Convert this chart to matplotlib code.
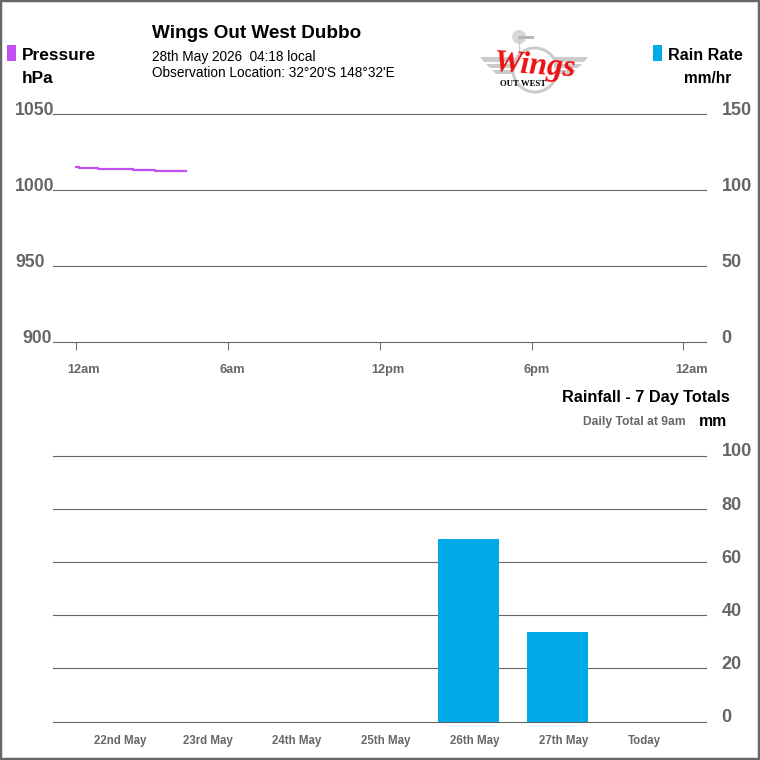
import matplotlib
matplotlib.use('Agg')
import matplotlib.pyplot as plt
from matplotlib.patches import Polygon, Circle, Rectangle

plt.rcParams['font.family'] = ['Liberation Sans', 'DejaVu Sans']

# pressure trace, hours since midnight
hours = [0.0, 0.12, 0.87, 1.38, 2.25, 3.12, 4.34]
pressure = [1015.0, 1014.3, 1013.4, 1013.4, 1012.7, 1012.0, 1012.0]

pressure_ticks = [900, 950, 1000, 1050]
rate_ticks = [0, 50, 100, 150]
hour_ticks = [0, 6, 12, 18, 24]
hour_labels = ['12am', '6am', '12pm', '6pm', '12am']

days = ['22nd May', '23rd May', '24th May', '25th May', '26th May', '27th May', 'Today']
rain = [0, 0, 0, 0, 68.8, 33.8, 0]
rain_ticks = [0, 20, 40, 60, 80, 100]

GREY = '#666666'
PURPLE = '#c050f0'
BLUE = '#00aae8'
W = 760.0


def px_axes(x0, y0, x1, y1):
    # axes from pixel box, y measured from the top of the image
    return fig.add_axes([x0/W, 1-y1/W, (x1-x0)/W, (y1-y0)/W])


def txt(x, y, s, size, color='black', ha='left', weight='bold', **kw):
    fig.text(x/W, 1-(y+1.5)/W, s, fontsize=size, color=color, ha=ha, va='center', fontweight=weight, **kw)


def clean(ax):
    for s in ax.spines.values():
        s.set_visible(False)
    ax.patch.set_alpha(0)


fig = plt.figure(figsize=(7.6, 7.6), dpi=100, facecolor='white')
fig.add_artist(Rectangle((0, 0), 1, 1, transform=fig.transFigure, fill=False, edgecolor=GREY, linewidth=3.2))

# pressure chart
ax = px_axes(53, 113.6, 706.4, 341.6)
clean(ax)
ax.set_xlim(-0.908, 24.908)
ax.set_ylim(900, 1050)
ax.set_yticks(pressure_ticks)
ax.set_yticklabels([])
ax.set_xticks(hour_ticks)
ax.set_xticklabels([])
ax.grid(axis='y', color=GREY, linewidth=0.8, clip_on=False)
ax.set_axisbelow(True)
ax.tick_params(axis='y', length=0)
ax.tick_params(axis='x', length=5.5, width=0.7, color=GREY, direction='out', pad=0)
ax.plot(hours, pressure, color=PURPLE, linewidth=1.6, drawstyle='steps-post', clip_on=False)
# the left labels do not share one right edge in the original
left_shift = [-0.8, -5.8, 0.7, 0.7]
for s, dx in zip(pressure_ticks, left_shift):
    ax.annotate(str(s), (-0.908, s), xytext=(dx, 2.0), textcoords='offset points', ha='right', va='center',
                fontsize=12.7, fontweight='bold', color=GREY, annotation_clip=False)
for s, p in zip(rate_ticks, pressure_ticks):
    ax.annotate(str(s), (24.908, p), xytext=(11, 2.0), textcoords='offset points', ha='left', va='center',
                fontsize=13, fontweight='bold', color=GREY, annotation_clip=False)
for h, lab in zip(hour_ticks, hour_labels):
    ax.annotate(lab, (h, 900), xytext=(-6, -20.7), textcoords='offset points', ha='left', va='center',
                fontsize=9.2, fontweight='bold', color=GREY, annotation_clip=False)

# rainfall chart
ax2 = px_axes(53, 455.6, 706.4, 721.6)
clean(ax2)
ax2.set_xlim(-0.669, 6.68)
ax2.set_ylim(0, 100)
ax2.set_yticks(rain_ticks)
ax2.set_yticklabels([])
ax2.set_xticks([])
ax2.grid(axis='y', color=GREY, linewidth=0.8, clip_on=False)
ax2.set_axisbelow(True)
ax2.tick_params(axis='y', length=0)
bar_w = 61/89.0
ax2.bar(range(len(days)), rain, width=bar_w, color=BLUE, zorder=3)
for i, d in enumerate(days):
    ax2.annotate(d, (i-bar_w/2, 0), xytext=(8.9, -14), textcoords='offset points', ha='left', va='center',
                 fontsize=8.3, fontweight='bold', color=GREY, annotation_clip=False)
for r in rain_ticks:
    ax2.annotate(str(r), (6.68, r), xytext=(11, 2.7), textcoords='offset points', ha='left', va='center',
                 fontsize=13, fontweight='bold', color=GREY, annotation_clip=False)

# header text
txt(152, 32, 'Wings Out West Dubbo', 13.6)
txt(152, 55, '28th May 2026  04:18 local', 9.8, weight='normal')
txt(152, 71.5, 'Observation Location: 32°20\'S 148°32\'E', 9.8, weight='normal')
txt(22, 54.5, 'Pressure', 12.4)
txt(22, 77, 'hPa', 12.4)
txt(668, 54.5, 'Rain Rate', 11.6)
txt(684, 77, 'mm/hr', 11.2)
txt(730, 396, 'Rainfall - 7 Day Totals', 11.7, ha='right')
txt(686, 421, 'Daily Total at 9am', 8.7, color=GREY, ha='right')
txt(699, 419.5, 'mm', 11.4)
fig.add_artist(Rectangle((7/W, 1-61/W), 9/W, 16/W, transform=fig.transFigure, color=PURPLE, linewidth=0))
fig.add_artist(Rectangle((653/W, 1-61/W), 9/W, 16/W, transform=fig.transFigure, color=BLUE, linewidth=0))

# logo, drawn in its own pixel box
lg = px_axes(475, 25, 595, 100)
lg.set_xlim(475, 595)
lg.set_ylim(100, 25)
lg.axis('off')
LG = '#cccccc'
for sign in (-1, 1):
    for y0, y1, a, b in [(57, 62, 54, 50), (64, 68, 48, 44), (70, 74, 42, 38)]:
        lg.add_patch(Polygon([(534+sign*a, y0), (534+sign*20, y0), (534+sign*20, y1), (534+sign*b, y1)],
                             closed=True, color=LG, linewidth=0))
lg.add_patch(Circle((535, 70), 22, fill=False, edgecolor=LG, linewidth=2.2))
lg.plot([519, 519], [38, 56], color=LG, linewidth=1)
lg.add_patch(Circle((519, 37), 7, color='#d8d8d8', linewidth=0))
lg.plot([519, 532], [37, 37], color='#b8b8b8', linewidth=2.2)
lg.text(535, 66, 'Wings', color='#ee1111', fontsize=23, fontfamily='Liberation Serif', style='italic',
        fontweight='bold', ha='center', va='center', rotation=-4)
lg.text(523.5, 84, 'OUT WEST', color='black', fontsize=6.3, fontfamily='Liberation Serif', fontweight='bold',
        ha='center', va='center')

fig.savefig('out.png', dpi=100)
